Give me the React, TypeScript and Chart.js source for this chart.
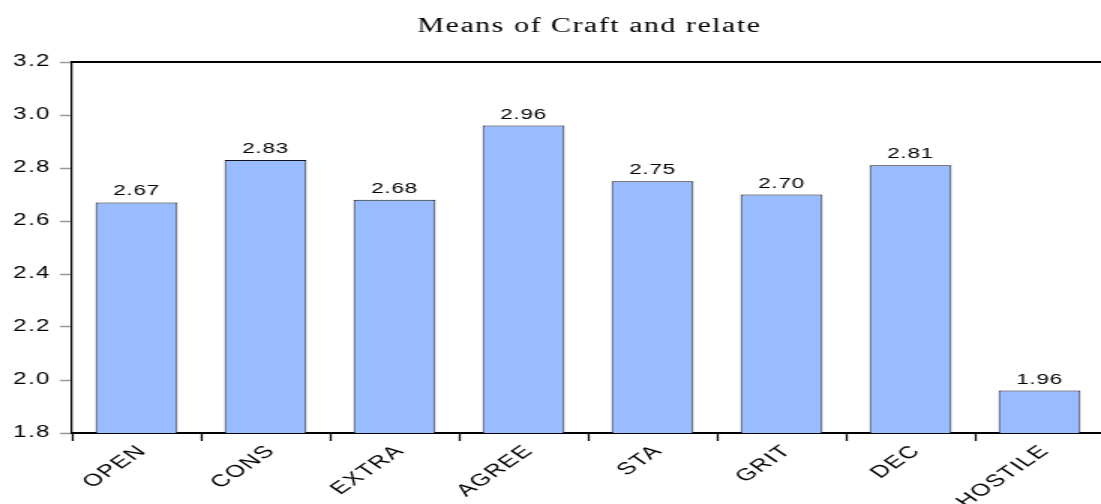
import React, { useEffect, useRef } from "react";
import { Chart, registerables } from "chart.js";

Chart.register(...registerables);

const TITLE = "Means of Craft and relate";
const categories = ["OPEN", "CONS", "EXTRA", "AGREE", "STA", "GRIT", "DEC", "HOSTILE"];
const means = [2.67, 2.83, 2.68, 2.96, 2.75, 2.70, 2.81, 1.96];
const yMin = 1.8;
const yMax = 3.2;
const yStep = 0.2;

const STRETCH = 1.5;
const SANS = '"Liberation Sans", Arial, Helvetica, sans-serif';
const SERIF = '"Liberation Serif", "Times New Roman", serif';

const setSpacing = (ctx: any, v: string) => {
  try { ctx.letterSpacing = v; } catch (e) {}
};

const spacingPlugin = {
  id: "spacing",
  beforeUpdate(chart: any) { setSpacing(chart.ctx, "1px"); },
  beforeDraw(chart: any) { setSpacing(chart.ctx, "1px"); },
};

const decorPlugin = {
  id: "decor",
  afterDraw(chart: any) {
    const { ctx, chartArea } = chart;
    ctx.save();
    ctx.strokeStyle = "#000";
    ctx.lineWidth = 2;
    ctx.beginPath();
    ctx.moveTo(chartArea.left - 1, chartArea.top);
    ctx.lineTo(chartArea.right + 20, chartArea.top);
    ctx.stroke();

    ctx.fillStyle = "#000";
    ctx.textAlign = "center";
    ctx.textBaseline = "alphabetic";
    ctx.font = `20px ${SERIF}`;
    setSpacing(ctx, "1px");
    ctx.fillText(TITLE, (chartArea.left + chartArea.right) / 2 + 1, 32);

    ctx.font = `15px ${SANS}`;
    setSpacing(ctx, "0.5px");
    const meta = chart.getDatasetMeta(0);
    meta.data.forEach((bar: any, i: number) => {
      ctx.fillText(means[i].toFixed(2), bar.x, bar.y - 7);
    });
    ctx.restore();
  },
};

export default function App() {
  const ref = useRef<HTMLCanvasElement>(null);
  useEffect(() => {
    if (!ref.current) return;
    const chart = new Chart(ref.current, {
      type: "bar",
      data: {
        labels: categories,
        datasets: [
          {
            data: means,
            backgroundColor: "#99bbff",
            borderColor: "#111",
            borderWidth: 1,
            barPercentage: 0.635,
            categoryPercentage: 1,
          },
        ],
      },
      options: {
        responsive: false,
        animation: false,
        devicePixelRatio: 1,
        layout: { padding: { top: 62, right: 4, left: 0, bottom: 0 } },
        plugins: {
          legend: { display: false },
          title: { display: false },
          tooltip: { enabled: false },
        },
        scales: {
          x: {
            grid: {
              offset: true,
              drawOnChartArea: false,
              drawTicks: true,
              tickLength: 8,
              tickColor: "#000",
              tickWidth: 1.3,
            },
            border: { display: true, color: "#000", width: 2 },
            ticks: {
              autoSkip: false,
              minRotation: 45,
              maxRotation: 45,
              padding: 0,
              labelOffset: 4,
              color: "#000",
              font: { family: SANS, size: 17 },
            },
            afterFit: (scale: any) => {
              scale.height = 71;
            },
          },
          y: {
            min: yMin,
            max: yMax,
            grid: {
              drawOnChartArea: false,
              drawTicks: true,
              tickLength: 8,
              tickColor: "#999",
              tickWidth: 1.5,
            },
            border: { display: true, color: "#000", width: 1.3 },
            ticks: {
              stepSize: yStep,
              padding: 6,
              color: "#000",
              font: { family: SANS, size: 16 },
              callback: (v: any) => Number(v).toFixed(1),
            },
            afterFit: (scale: any) => {
              scale.width = 48;
            },
          },
        },
      },
      plugins: [spacingPlugin, decorPlugin],
    });
    return () => chart.destroy();
  }, []);

  return (
    <div
      style={{
        position: "absolute",
        left: 0,
        top: 0,
        width: 1101,
        height: 504,
        overflow: "hidden",
        background: "#fff",
      }}
    >
      <div style={{ transform: `scaleX(${STRETCH})`, transformOrigin: "0 0", width: 740 }}>
        <canvas ref={ref} width={740} height={504} style={{ display: "block" }} />
      </div>
    </div>
  );
}
